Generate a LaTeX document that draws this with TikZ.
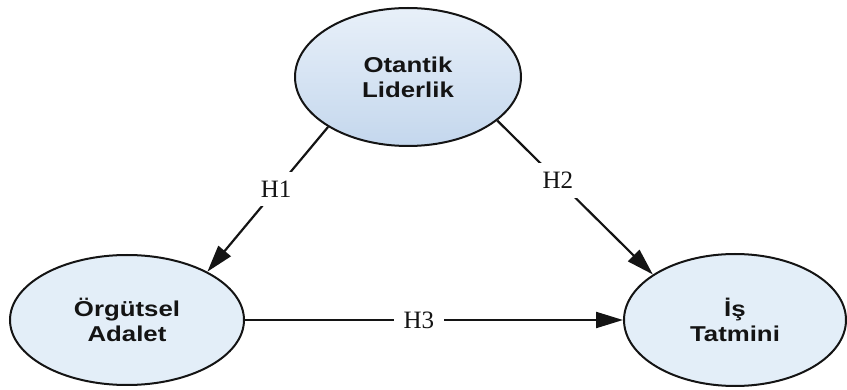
\documentclass[tikz,border=0pt]{standalone}
\usepackage{fontspec}
\setmainfont{Liberation Serif}
\newfontfamily\nodefont[FakeStretch=1.2]{Liberation Sans}
\usetikzlibrary{shapes.geometric,arrows.meta}
\definecolor{fillblue}{HTML}{E3EEF8}
\definecolor{topA}{HTML}{E8F0F9}
\definecolor{topB}{HTML}{C4D7ED}
\definecolor{ink}{HTML}{141414}
\tikzset{
  construct/.style={ellipse, draw=ink, line width=2pt, inner sep=0pt,
    align=center, text=ink, font=\nodefont\bfseries\fontsize{21.5}{25}\selectfont},
  link/.style={draw=ink, line width=2.2pt, -{Triangle[length=27pt,width=16pt]}},
  lbl/.style={fill=white, text=ink, inner xsep=10pt, inner ysep=9pt,
    font=\fontsize{25}{25}\selectfont}
}
\begin{document}
\begin{tikzpicture}[x=1pt,y=-1pt]
\useasboundingbox (0,0) rectangle (847,390);
\node[construct, minimum width=226pt, minimum height=138pt,
  top color=topA, bottom color=topB] (ol) at (408,77) {Otantik\\Liderlik};
\node[construct, fill=fillblue, minimum width=234pt, minimum height=130pt] (oa) at (127,320) {Örgütsel\\Adalet};
\node[construct, fill=fillblue, minimum width=222pt, minimum height=132pt] (it) at (735,320) {İş\\Tatmini};
\draw[link] (ol.212.5) -- node[lbl, pos=0.43] (h1) {H1} (oa.31);
\draw[link] (ol.-26) -- node[lbl, pos=0.39] (h2) {H2} (it.151);
\draw[link] (oa.east) -- node[lbl, pos=0.46] (h3) {H3} (it.west);
\end{tikzpicture}
\end{document}
